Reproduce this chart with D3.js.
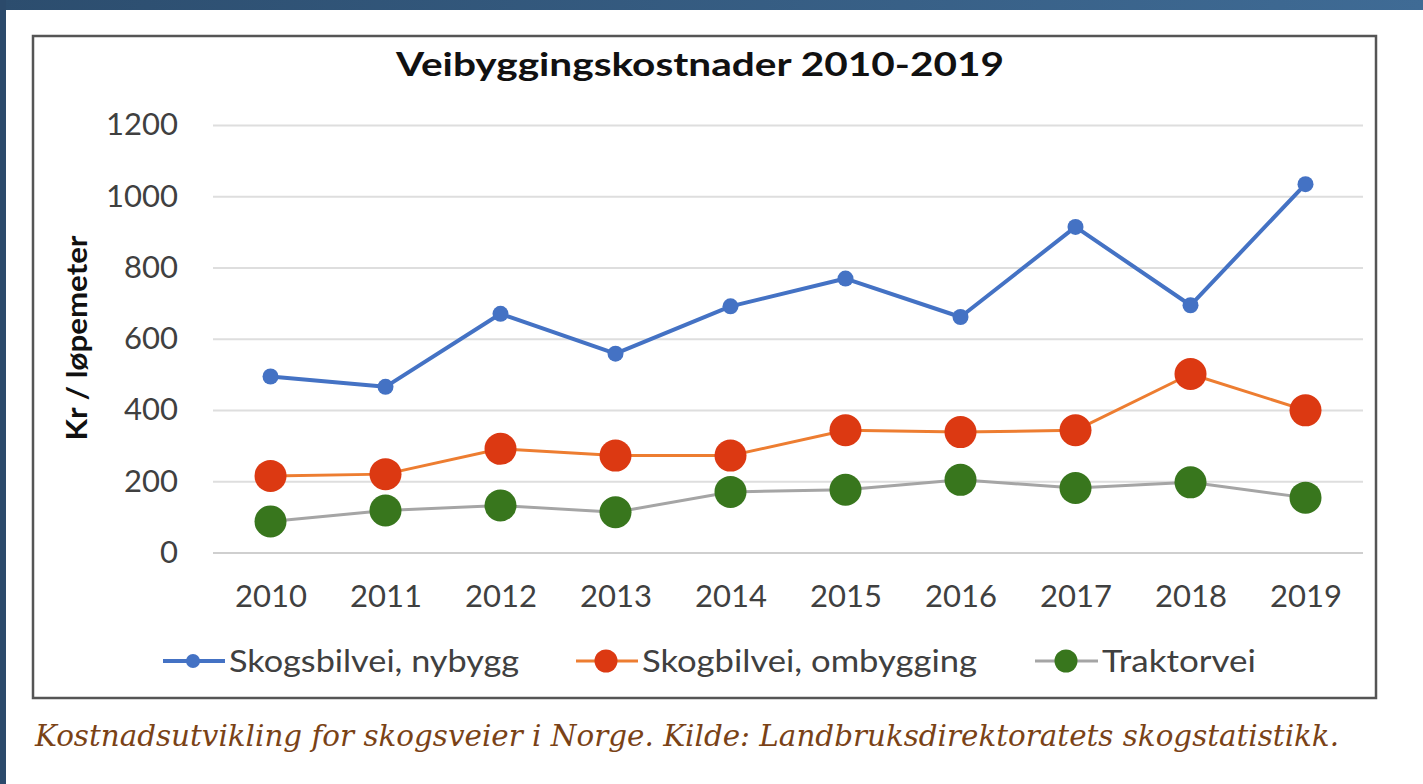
<!DOCTYPE html>
<html><head><meta charset="utf-8">
<script src="https://cdn.jsdelivr.net/npm/d3@7"></script>
<style>
html,body{margin:0;padding:0;background:#fff;}
svg{display:block;}
</style></head>
<body>
<svg id="c" width="1423" height="784"></svg>
<script>
const title = "Veibyggingskostnader 2010-2019";
const yTitle = "Kr / løpemeter";
const caption = "Kostnadsutvikling for skogsveier i Norge. Kilde: Landbruksdirektoratets skogstatistikk.";
const years = ["2010","2011","2012","2013","2014","2015","2016","2017","2018","2019"];
const yTicks = [0,200,400,600,800,1000,1200];
const nybygg = [494,465,670,558,691,769,661,914,694,1034];
const ombygging = [215,220,291,272,272,343,338,343,501,399];
const traktorvei = [87,118,132,113,170,176,204,181,197,154];
const seriesNames = ["Skogsbilvei, nybygg","Skogbilvei, ombygging","Traktorvei"];

const series = [
  {name:seriesNames[0], values:nybygg, line:"#4472C4", marker:"#4472C4", r:8, lw:4},
  {name:seriesNames[1], values:ombygging, line:"#ED7D31", marker:"#DC3912", r:16, lw:3},
  {name:seriesNames[2], values:traktorvei, line:"#A5A5A5", marker:"#38761D", r:16, lw:3}
];

const svg = d3.select("#c");
const font = "Lato, 'Open Sans', sans-serif";

// page frame
const defs = svg.append("defs");
const g1 = defs.append("linearGradient").attr("id","topband").attr("x1","0").attr("x2","1");
g1.append("stop").attr("offset","0").attr("stop-color","#2c4d6e");
g1.append("stop").attr("offset","1").attr("stop-color","#3f6b95");
svg.append("rect").attr("x",0).attr("y",0).attr("width",1423).attr("height",10).attr("fill","url(#topband)");
svg.append("rect").attr("x",0).attr("y",0).attr("width",6).attr("height",784).attr("fill","#2b4a6b");

// chart box
svg.append("rect").attr("x",33).attr("y",36).attr("width",1343).attr("height",662)
  .attr("fill","#fff").attr("stroke","#555").attr("stroke-width",2.5);

const x = d3.scalePoint().domain(years).range([213,1363]).padding(0.5);
const y = d3.scaleLinear().domain([0,1200]).range([552.5,125]);

// gridlines
const yAxis = d3.axisLeft(y).tickValues(yTicks).tickFormat(d3.format("d")).tickSize(-(1363-213)).tickPadding(35);
const ga = svg.append("g").attr("transform","translate(213,0)").call(yAxis);
ga.select(".domain").remove();
ga.selectAll(".tick line").attr("stroke",d=>d===0?"#cfcfcf":"#dedede").attr("stroke-width",2);
ga.selectAll(".tick text").attr("font-family",font).attr("font-size",31).attr("fill","#404040");

const xAxis = d3.axisBottom(x).tickSize(0).tickPadding(32);
const gx = svg.append("g").attr("transform","translate(0,552.5)").call(xAxis);
gx.select(".domain").remove();
gx.selectAll(".tick text").attr("font-family",font).attr("font-size",31).attr("fill","#404040");

// lines and markers
const line = d3.line().x((d,i)=>x(years[i])).y(d=>y(d));
series.forEach(s=>{
  svg.append("path").datum(s.values).attr("d",line).attr("fill","none")
    .attr("stroke",s.line).attr("stroke-width",s.lw).attr("stroke-linejoin","round");
});
series.forEach(s=>{
  svg.append("g").selectAll("circle").data(s.values).join("circle")
    .attr("cx",(d,i)=>x(years[i])).attr("cy",d=>y(d)).attr("r",s.r).attr("fill",s.marker);
});

// title
svg.append("text").attr("x",700).attr("y",76).attr("text-anchor","middle")
  .attr("font-family",font).attr("font-weight","bold").attr("font-size",32).attr("fill","#111")
  .attr("textLength",608).attr("lengthAdjust","spacingAndGlyphs").text(title);

// y title
svg.append("text").attr("transform","translate(87,338) rotate(-90)").attr("text-anchor","middle")
  .attr("font-family",font).attr("font-weight","bold").attr("font-size",29).attr("fill","#111")
  .attr("textLength",205).attr("lengthAdjust","spacingAndGlyphs").text(yTitle);

// legend
const legendPos = [
  {x0:163,x1:225,cx:193,tx:229,tw:290,r:7},
  {x0:576,x1:638,cx:606,tx:642,tw:335,r:11.5},
  {x0:1035,x1:1098,cx:1066,tx:1102,tw:154,r:11.5}
];
series.forEach((s,i)=>{
  const p = legendPos[i];
  const lg = svg.append("g");
  lg.append("line").attr("x1",p.x0).attr("x2",p.x1).attr("y1",661).attr("y2",661)
    .attr("stroke",s.line).attr("stroke-width",s.lw);
  lg.append("circle").attr("cx",p.cx).attr("cy",661).attr("r",p.r).attr("fill",s.marker);
  lg.append("text").attr("x",p.tx).attr("y",672).attr("font-family",font).attr("font-size",31)
    .attr("fill","#404040").attr("textLength",p.tw).attr("lengthAdjust","spacingAndGlyphs").text(s.name);
});

// caption
svg.append("text").attr("x",35).attr("y",746).attr("font-family","'DejaVu Serif', serif")
  .attr("font-style","italic").attr("font-size",29).attr("fill","#7a4216")
  .attr("textLength",1304).attr("lengthAdjust","spacingAndGlyphs").text(caption);
</script>
</body></html>
